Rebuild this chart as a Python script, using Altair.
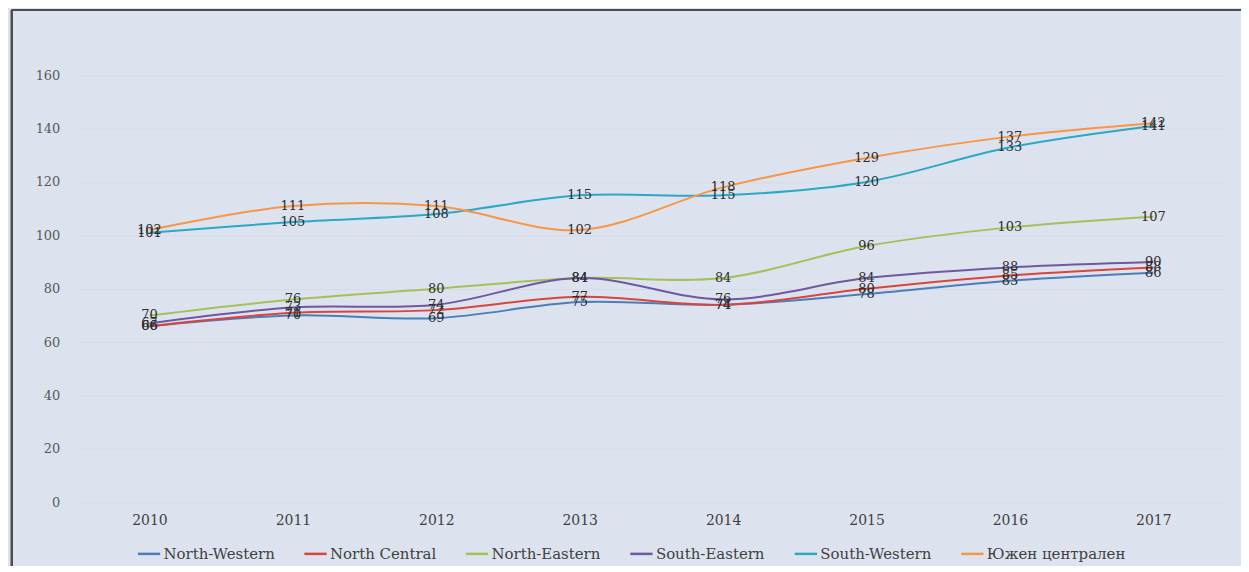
import altair as alt
import pandas as pd

years = ["2010", "2011", "2012", "2013", "2014", "2015", "2016", "2017"]
series_names = ["North-Western", "North Central", "North-Eastern",
                "South-Eastern", "South-Western", "Южен централен"]
north_western = [66, 70, 69, 75, 74, 78, 83, 86]
north_central = [66, 71, 72, 77, 74, 80, 85, 88]
north_eastern = [70, 76, 80, 84, 84, 96, 103, 107]
south_eastern = [67, 73, 74, 84, 76, 84, 88, 90]
south_western = [101, 105, 108, 115, 115, 120, 133, 141]
south_central = [102, 111, 111, 102, 118, 129, 137, 142]
y_ticks = [0, 20, 40, 60, 80, 100, 120, 140, 160]
colors = ["#4a7ebb", "#d8453d", "#a2c159", "#7057a0", "#2aa8c4", "#f79646"]

all_values = [north_western, north_central, north_eastern,
              south_eastern, south_western, south_central]
rows = []
for name, vals in zip(series_names, all_values):
    for yr, v in zip(years, vals):
        rows.append({"year": yr, "series": name, "value": v})
df = pd.DataFrame(rows)

FONT = "DejaVu Serif"
W, H = 1151, 482

x_enc = alt.X("year:N", sort=years,
              scale=alt.Scale(type="point", padding=0.5),
              axis=alt.Axis(title=None, labelAngle=0, ticks=False, domain=False,
                            grid=False, labelFont=FONT, labelFontSize=14,
                            labelColor="#404040", labelPadding=11))
y_enc = alt.Y("value:Q",
              scale=alt.Scale(domain=[0, 180], nice=False, zero=True),
              axis=alt.Axis(title=None, values=y_ticks, ticks=False, domain=False,
                            grid=True, gridColor="#d4dbe7", gridWidth=1,
                            labelFont=FONT, labelFontSize=13,
                            labelColor="#595959", labelPadding=18))
color_enc = alt.Color("series:N",
                      scale=alt.Scale(domain=series_names, range=colors),
                      legend=alt.Legend(title=None, orient="none", direction="horizontal",
                                        legendX=59, legendY=521,
                                        symbolType="stroke", symbolSize=500,
                                        symbolStrokeWidth=2.5, labelOffset=2,
                                        labelFont=FONT, labelFontSize=15,
                                        labelColor="#404040", columnPadding=24,
                                        columns=6))

lines = alt.Chart(df).mark_line(interpolate="catmull-rom", strokeWidth=2).encode(
    x=x_enc, y=y_enc, color=color_enc,
    order=alt.Order("year:N"))

labels = alt.Chart(df).mark_text(font=FONT, fontSize=13, color="#2e2e2e",
                                 baseline="middle", align="center").encode(
    x=alt.X("year:N", sort=years), y="value:Q", text="value:Q",
    detail="series:N")

frame_left = alt.Chart(df).mark_rule(color="#4d4d4d", strokeWidth=2).encode(
    x=alt.value(-66), y=alt.value(-12), y2=alt.value(H + 72))
frame_top = alt.Chart(df).mark_rule(color="#4d4d4d", strokeWidth=2).encode(
    x=alt.value(-66), x2=alt.value(W + 20), y=alt.value(-12))

chart = alt.layer(lines, labels, frame_left, frame_top).properties(
    width=W, height=H,
    background="#dde3ee",
    padding={"left": 70, "top": 13, "right": 16, "bottom": 63},
    autosize=alt.AutoSizeParams(type="none"),
).configure_view(stroke=None)

chart.save("out.html", embed_options={"renderer": "svg", "actions": False})
